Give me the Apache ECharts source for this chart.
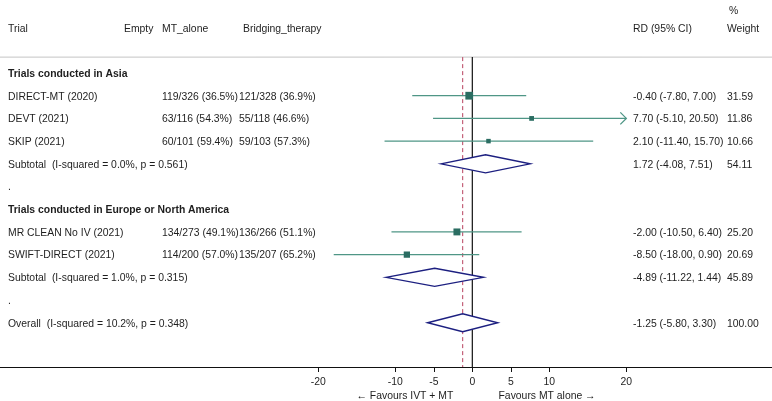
<!DOCTYPE html>
<html lang="en">
	<head>
		<meta charset="UTF-8">
		<title>Forest plot</title>
		<script src="https://cdn.jsdelivr.net/npm/echarts@6/dist/echarts.min.js"></script>
		<style>
			html, body { margin:0; padding:0; background:#fff; }
			#forest { width:772px; height:401px; }
		</style>
	</head>
	<body>
		<div id="forest"></div>
		<script type="text/javascript">
			// trials
			var trialNames = ['DIRECT-MT (2020)', 'DEVT (2021)', 'SKIP (2021)', 'MR CLEAN No IV (2021)', 'SWIFT-DIRECT (2021)'];
			var trialRows = [1, 2, 3, 7, 8];
			var mtAlone = ['119/326 (36.5%)', '63/116 (54.3%)', '60/101 (59.4%)', '134/273 (49.1%)', '114/200 (57.0%)'];
			var bridging = ['121/328 (36.9%)', '55/118 (46.6%)', '59/103 (57.3%)', '136/266 (51.1%)', '135/207 (65.2%)'];
			var rd = [-0.40, 7.70, 2.10, -2.00, -8.50];
			var rdLow = [-7.80, -5.10, -11.40, -10.50, -18.00];
			var rdHigh = [7.00, 20.50, 15.70, 6.40, 0.90];
			var weights = [31.59, 11.86, 10.66, 25.20, 20.69];

			// pooled estimates
			var poolLabels = ['Subtotal  (I-squared = 0.0%, p = 0.561)', 'Subtotal  (I-squared = 1.0%, p = 0.315)', 'Overall  (I-squared = 10.2%, p = 0.348)'];
			var poolRows = [4, 9, 11];
			var poolRd = [1.72, -4.89, -1.25];
			var poolLow = [-4.08, -11.22, -5.80];
			var poolHigh = [7.51, 1.44, 3.30];
			var poolWeights = [54.11, 45.89, 100.00];

			var groupNames = ['Trials conducted in Asia', 'Trials conducted in Europe or North America'];
			var groupRows = [0, 6];
			var blankRows = [5, 10];

			var tickValues = [-20, -10, -5, 0, 5, 10, 20];
			var clipMin = -20, clipMax = 20;
			var overallRd = -1.25;

			var FONT = '"Liberation Sans", Arial, sans-serif';
			var FS = '10.4px ';
			var INK = '#1e1e1e';

			// table rows: [row, x, text, bold]
			var cells = [];
			cells.push([-1.98, 8, 'Trial', false]);
			cells.push([-1.98, 124, 'Empty', false]);
			cells.push([-1.98, 162, 'MT_alone', false]);
			cells.push([-1.98, 243, 'Bridging_therapy', false]);
			cells.push([-1.98, 633, 'RD (95% CI)', false]);
			cells.push([-1.98, 727, 'Weight', false]);
			cells.push([-2.78, 729, '%', false]);
			groupNames.forEach(function (g, i) { cells.push([groupRows[i], 8, g, true]); });
			blankRows.forEach(function (r) { cells.push([r, 8, '.', false]); });
			trialNames.forEach(function (t, i) {
				var r = trialRows[i];
				cells.push([r, 8, t, false]);
				cells.push([r, 162, mtAlone[i], false]);
				cells.push([r, 239, bridging[i], false]);
				cells.push([r, 633, rd[i].toFixed(2) + ' (' + rdLow[i].toFixed(2) + ', ' + rdHigh[i].toFixed(2) + ')', false]);
				cells.push([r, 727, weights[i].toFixed(2), false]);
			});
			poolLabels.forEach(function (t, i) {
				var r = poolRows[i];
				cells.push([r, 8, t, false]);
				cells.push([r, 633, poolRd[i].toFixed(2) + ' (' + poolLow[i].toFixed(2) + ', ' + poolHigh[i].toFixed(2) + ')', false]);
				cells.push([r, 727, poolWeights[i].toFixed(2), false]);
			});

			var trialData = rd.map(function (v, i) { return [v, trialRows[i], rdLow[i], rdHigh[i], weights[i]]; });
			var poolData = poolRd.map(function (v, i) { return [v, poolRows[i], poolLow[i], poolHigh[i]]; });

			var dom = document.getElementById('forest');
			var myChart = echarts.init(dom);

			option = {
				animation: false,
				grid: { left: 0, right: 0, top: 0, bottom: 34 },
				xAxis: {
					type: 'value',
					position: 'bottom',
					min: -61.34,
					max: 38.92,
					splitLine: { show: false },
					axisLine: { onZero: false, lineStyle: { color: '#111', width: 1 } },
					axisTick: { customValues: tickValues, length: 5, lineStyle: { color: '#111' } },
					axisLabel: { customValues: tickValues, fontFamily: FONT, fontSize: 10.4, color: INK, margin: 10 }
				},
				yAxis: {
					type: 'value',
					inverse: true,
					min: -3.216,
					max: 12.95,
					show: false
				},
				series: [
					{
						// header rule and reference lines
						type: 'custom',
						clip: false,
						data: [[0]],
						renderItem: function (params, api) {
							var top = api.coord([0, -0.7])[1];
							var bot = api.coord([0, 12.95])[1];
							var x0 = api.coord([0, 0])[0];
							var xo = api.coord([overallRd, 0])[0];
							return {
								type: 'group',
								children: [
									{ type: 'line', shape: { x1: 0, y1: top, x2: 772, y2: top }, style: { stroke: '#c4c4c4', lineWidth: 1 } },
									{ type: 'line', shape: { x1: xo, y1: top, x2: xo, y2: bot }, style: { stroke: '#b8405e', lineWidth: 1, lineDash: [4, 3] } },
									{ type: 'line', shape: { x1: x0, y1: top, x2: x0, y2: bot }, style: { stroke: '#111', lineWidth: 1.2 } }
								]
							};
						}
					},
					{
						// trial CIs and weighted squares
						type: 'custom',
						clip: false,
						z: 3,
						data: trialData,
						renderItem: function (params, api) {
							var est = api.value(0), row = api.value(1), lo = api.value(2), hi = api.value(3), w = api.value(4);
							var pL = api.coord([Math.max(lo, clipMin), row]);
							var pR = api.coord([Math.min(hi, clipMax), row]);
							var pc = api.coord([est, row]);
							var s = 1.38 * Math.sqrt(w);
							var kids = [
								{ type: 'line', shape: { x1: pL[0], y1: pL[1], x2: pR[0], y2: pR[1] }, style: { stroke: '#4f9686', lineWidth: 1.3 } },
								{ type: 'rect', shape: { x: pc[0] - s / 2, y: pc[1] - s / 2, width: s, height: s }, style: { fill: '#2b6d62' } }
							];
							if (hi > clipMax) {
								kids.push({ type: 'polyline', shape: { points: [[pR[0] - 6, pR[1] - 6], [pR[0], pR[1]], [pR[0] - 6, pR[1] + 6]] }, style: { stroke: '#4f9686', lineWidth: 1.3, fill: null } });
							}
							if (lo < clipMin) {
								kids.push({ type: 'polyline', shape: { points: [[pL[0] + 6, pL[1] - 6], [pL[0], pL[1]], [pL[0] + 6, pL[1] + 6]] }, style: { stroke: '#4f9686', lineWidth: 1.3, fill: null } });
							}
							return { type: 'group', children: kids };
						}
					},
					{
						// pooled diamonds
						type: 'custom',
						clip: false,
						z: 3,
						data: poolData,
						renderItem: function (params, api) {
							var est = api.value(0), row = api.value(1);
							var pL = api.coord([api.value(2), row]);
							var pR = api.coord([api.value(3), row]);
							var pc = api.coord([est, row]);
							var h = 9;
							return {
								type: 'polygon',
								shape: { points: [[pL[0], pc[1]], [pc[0], pc[1] - h], [pR[0], pc[1]], [pc[0], pc[1] + h]] },
								style: { fill: '#fff', stroke: '#1c1f80', lineWidth: 1.4 }
							};
						}
					},
					{
						// table text
						type: 'custom',
						clip: false,
						data: cells,
						renderItem: function (params, api) {
							var c = cells[params.dataIndex];
							var y = api.coord([0, c[0]])[1] + 1;
							return {
								type: 'text',
								x: c[1],
								y: y,
								style: {
									text: c[2],
									fill: INK,
									font: (c[3] ? 'bold ' : '') + FS + FONT,
									textAlign: 'left',
									textVerticalAlign: 'middle'
								}
							};
						}
					},
					{
						// favours labels under the axis
						type: 'custom',
						clip: false,
						data: [[-8.75], [9.7]],
						renderItem: function (params, api) {
							var p = api.coord([api.value(0), 14.18]);
							return {
								type: 'text',
								x: p[0],
								y: p[1] + 1,
								style: {
									text: ['\u2190 Favours IVT + MT', 'Favours MT alone \u2192'][params.dataIndex],
									fill: INK,
									font: FS + FONT,
									textAlign: 'center',
									textVerticalAlign: 'middle'
								}
							};
						}
					}
				]
			};
			if (option && typeof option === "object") {
				myChart.setOption(option, true);
			}
		</script>
	</body>
</html>
